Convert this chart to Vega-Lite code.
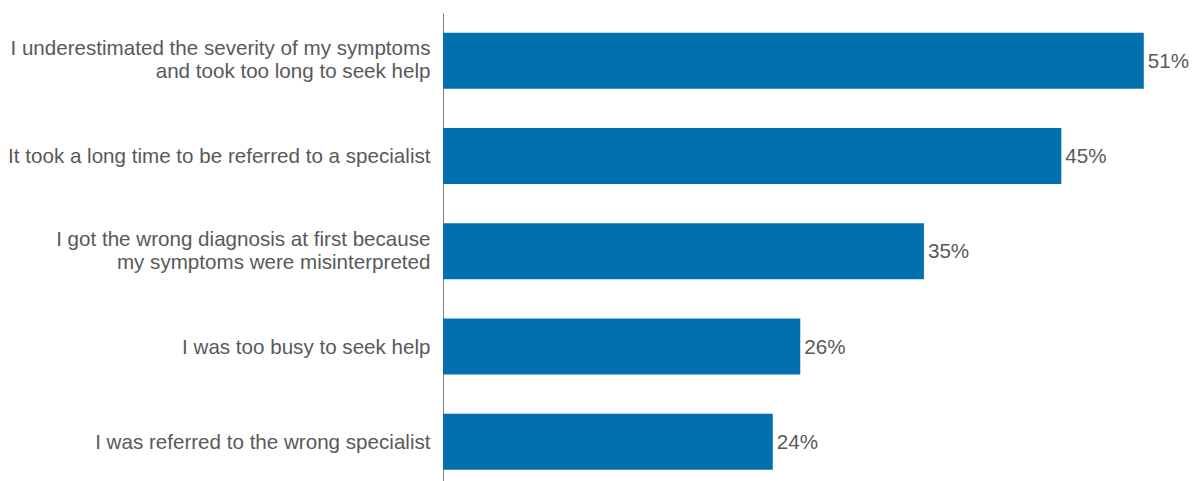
{
  "$schema": "https://vega.github.io/schema/vega-lite/v6.json",
  "autosize": {"type": "none"},
  "padding": {"left": 443, "top": 13, "right": 7, "bottom": 0},
  "width": 742,
  "height": 476.5,
  "background": "white",
  "config": {"view": {"stroke": null}, "font": "Liberation Sans"},
  "data": {
    "values": [
      {"reason": "I underestimated the severity of my symptoms|and took too long to seek help", "share": 0.51},
      {"reason": "It took a long time to be referred to a specialist", "share": 0.45},
      {"reason": "I got the wrong diagnosis at first because |my symptoms were misinterpreted", "share": 0.35},
      {"reason": "I was too busy to seek help", "share": 0.26},
      {"reason": "I was referred to the wrong specialist", "share": 0.24}
    ]
  },
  "encoding": {
    "y": {
      "field": "reason",
      "type": "nominal",
      "sort": null,
      "scale": {"paddingInner": 0.412, "paddingOuter": 0.206},
      "axis": {
        "title": null,
        "ticks": false,
        "domainColor": "#808080",
        "domainWidth": 1,
        "labelExpr": "split(datum.value, '|')",
        "labelFontSize": 20.6,
        "labelColor": "#595959",
        "labelPadding": 13,
        "labelLineHeight": 23.5,
        "labelOffset": {"condition": {"test": "indexof(datum.value, '|') >= 0", "value": -11.75}, "value": 1},
        "labelLimit": 500,
        "labelFont": "Liberation Sans"
      }
    },
    "x": {
      "field": "share",
      "type": "quantitative",
      "scale": {"domain": [0, 0.54], "nice": false},
      "axis": null
    }
  },
  "layer": [
    {"mark": {"type": "bar", "color": "#0070AF"}},
    {
      "mark": {"type": "text", "align": "left", "dx": 4, "dy": 1, "fontSize": 20.6, "color": "#595959", "font": "Liberation Sans"},
      "encoding": {"text": {"field": "share", "type": "quantitative", "format": ".0%"}}
    }
  ]
}
